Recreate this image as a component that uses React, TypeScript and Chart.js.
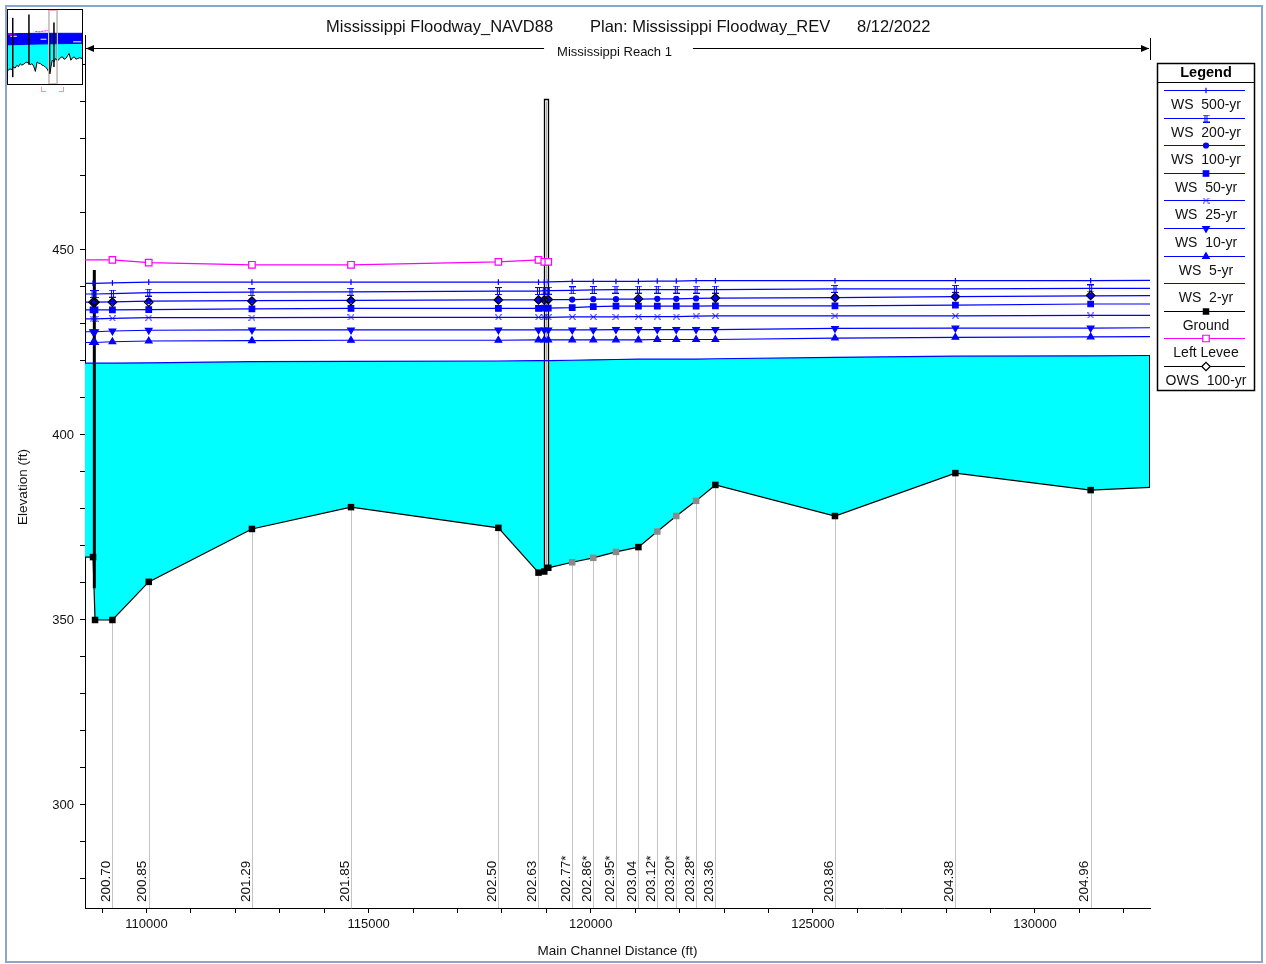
import React, { useEffect, useRef } from 'react';
import { Chart, registerables } from 'chart.js';
import { drawPoint } from 'chart.js/helpers';

Chart.register(...registerables);

const FONT = "'Liberation Sans', Arial, Helvetica, sans-serif";

// ---------- main profile data ----------
// cross-section positions along main channel (ft); first and last lie just outside the view
const stations = [108400, 108796, 108841, 109232, 110050, 112373, 114603, 117921, 118824, 118954, 119044, 119583, 120057, 120568, 121073, 121498, 121926, 122372, 122806, 125498, 128209, 131254, 133000];
const groundElev = [367.0, 367.0, 350.0, 350.0, 360.3, 374.6, 380.5, 374.9, 362.8, 363.1, 364.1, 365.6, 366.8, 368.4, 369.7, 373.9, 378.1, 382.2, 386.5, 378.1, 389.7, 385.1, 386.1];
const interpolatedStations = [119583, 120057, 120568, 121498, 121926, 122372];

const ws500 = [441.0, 441.0, 441.0, 441.1, 441.3, 441.3, 441.3, 441.3, 441.3, 441.3, 441.4, 441.5, 441.5, 441.5, 441.5, 441.6, 441.6, 441.7, 441.7, 441.7, 441.7, 441.7, 441.8];
const ws200 = [438.1, 438.1, 438.1, 438.2, 438.5, 438.6, 438.7, 438.9, 438.9, 439.0, 439.0, 439.1, 439.2, 439.3, 439.3, 439.3, 439.3, 439.3, 439.3, 439.5, 439.5, 439.6, 439.6];
const ws100 = [435.9, 435.9, 435.9, 436.0, 436.2, 436.3, 436.4, 436.5, 436.5, 436.6, 436.6, 436.6, 436.7, 436.7, 436.7, 436.8, 436.8, 436.9, 437.0, 437.1, 437.4, 437.6, 437.7];
const ws50 = [433.8, 433.8, 433.8, 433.8, 433.9, 434.1, 434.2, 434.2, 434.2, 434.3, 434.3, 434.4, 434.7, 434.8, 434.8, 434.8, 434.8, 434.8, 434.9, 434.9, 435.1, 435.4, 435.4];
const ws25 = [431.4, 431.4, 431.4, 431.5, 431.7, 431.7, 431.8, 431.8, 431.8, 431.8, 431.8, 431.9, 431.9, 431.9, 432.0, 432.0, 432.0, 432.1, 432.2, 432.2, 432.2, 432.3, 432.3];
const ws10 = [427.9, 427.9, 427.9, 428.1, 428.3, 428.4, 428.4, 428.4, 428.4, 428.4, 428.4, 428.4, 428.4, 428.5, 428.5, 428.5, 428.5, 428.5, 428.5, 428.8, 428.9, 428.9, 429.0];
const ws5 = [425.0, 425.0, 425.0, 425.2, 425.4, 425.5, 425.6, 425.6, 425.7, 425.7, 425.7, 425.7, 425.7, 425.7, 425.7, 425.8, 425.8, 425.8, 425.8, 426.2, 426.4, 426.5, 426.6];
const ws2 = [419.4, 419.4, 419.4, 419.4, 419.5, 419.8, 419.9, 420.0, 420.1, 420.1, 420.1, 420.2, 420.3, 420.4, 420.5, 420.5, 420.5, 420.5, 420.6, 421.0, 421.3, 421.4, 421.5];

const leveeStations = [108400, 109232, 110050, 112373, 114603, 117921, 118824, 118954, 119044];
const leveeElev = [447.3, 447.3, 446.6, 446.0, 446.0, 446.8, 447.3, 446.8, 446.8];

const owsStations = [108796, 108841, 109232, 110050, 112373, 114603, 117921, 118824, 118954, 119044, 121073, 122806, 125498, 128209, 131254];
const owsElev = [435.9, 435.9, 435.9, 435.9, 436.2, 436.3, 436.5, 436.5, 436.5, 436.6, 436.8, 437.0, 437.1, 437.4, 437.7];

const labelStations = [109232, 110050, 112373, 114603, 117921, 118824, 119583, 120057, 120568, 121073, 121498, 121926, 122372, 122806, 125498, 128209, 131254];
const sectionLabels = ['200.70', '200.85', '201.29', '201.85', '202.50', '202.63', '202.77*', '202.86*', '202.95*', '203.04', '203.12*', '203.20*', '203.28*', '203.36', '203.86', '204.38', '204.96'];

// structures
const weirStation = 108825;
const weirBottom = 358.6;
const weirTop = 444.6;
const bridgeStations = [118954, 119044];
const bridgeTop = 490.8;

// axes
const X_MIN = 108615;
const X_MAX = 132590;
const Y_MIN = 272.16;
const Y_MAX = 508.1;
const xMajorTicks = [110000, 115000, 120000, 125000, 130000];
const xMinorStep = 1000;
const yMajorTicks = [300, 350, 400, 450];
const yMinorStep = 10;

const titleParts = ['Mississippi Floodway_NAVD88', 'Plan: Mississippi Floodway_REV', '8/12/2022'];
const reachName = 'Mississippi Reach 1';
const xTitle = 'Main Channel Distance (ft)';
const yTitle = 'Elevation (ft)';

// ---------- overview (inset) data, arbitrary 0-100 units ----------
const ovU = [0, 2.7, 5, 7.3, 9.6, 11.9, 14.2, 16.4, 18.7, 21, 24.5, 27.9, 30.1, 32.4, 34.7, 37, 39.3, 41.6, 43.8, 46.1, 48.4, 50.7, 53, 54.8, 56.6, 58.2, 59.8, 62.1, 64.4, 66.7, 68.9, 71.2, 73.5, 75.8, 78.1, 80.4, 82.6, 84.9, 87.2, 89.5, 91.8, 94.1, 97, 100];
const ovGround = [18.3, 20.6, 19.5, 22.9, 21.5, 25.2, 23.5, 27.5, 25.5, 26.6, 29.5, 28.4, 26.0, 27.5, 24.0, 17.0, 29.8, 28.0, 27.5, 25.5, 24.8, 22.5, 20.6, 16.5, 13.8, 24.0, 32.1, 30.0, 34.4, 31.5, 33.0, 36.0, 36.7, 33.5, 34.4, 38.0, 41.3, 32.1, 35.5, 36.7, 33.5, 34.4, 35.5, 34.4];
const ovBandU = [0, 40, 100];
const ovBandTop = [68.0, 68.5, 68.5];
const ovBandBottom = [53.0, 54.0, 55.0];
const ovStreaks = [[3, 12, 64.5], [44, 52, 60.5], [88, 99, 57.0]];
const ovSpikeU = [6.4, 28.3, 56.2, 62.1];
const ovSpikeBottom = [9.2, 26.0, 14.0, 23.0];
const ovSpikeTop = [89.4, 94.0, 69.0, 83.0];
const ovLeveeU = [0, 9.6];
const ovLeveeV = [67.5, 67.5];
const ovLevee2U = [37, 42, 48, 53, 57];
const ovLevee2V = [71.0, 70.5, 71.5, 72.0, 71.5];
const ovView = [54.3, 65.8];

// ---------- helpers ----------
const BLUE = '#0000ff';
const pts = (xs: number[], ys: number[]) => xs.map((x, i) => ({ x, y: ys[i] }));

function interp(xs: number[], ys: number[], v: number) {
  for (let i = 0; i < xs.length - 1; i++) {
    if (v >= xs[i] && v <= xs[i + 1]) {
      const t = (v - xs[i]) / (xs[i + 1] - xs[i]);
      return ys[i] + t * (ys[i + 1] - ys[i]);
    }
  }
  return ys[ys.length - 1];
}

function makeGlyph(kind: 'ibeam' | 'bow') {
  const c = document.createElement('canvas');
  const g = c.getContext('2d')!;
  if (kind === 'ibeam') {
    c.width = 7; c.height = 8;
    g.strokeStyle = BLUE; g.lineWidth = 1;
    g.beginPath();
    g.moveTo(0, 0.5); g.lineTo(7, 0.5);
    g.moveTo(0, 7.5); g.lineTo(7, 7.5);
    g.moveTo(2.5, 0); g.lineTo(2.5, 8);
    g.moveTo(4.5, 0); g.lineTo(4.5, 8);
    g.stroke();
  } else {
    c.width = 7; c.height = 6;
    g.strokeStyle = BLUE; g.lineWidth = 1;
    g.beginPath();
    g.moveTo(0.5, 0); g.lineTo(3, 3); g.lineTo(0.5, 6);
    g.moveTo(6.5, 0); g.lineTo(4, 3); g.lineTo(6.5, 6);
    g.stroke();
  }
  return c;
}

type LegendItem = { label: string; line: string; style: any; radius: number; rotation: number; bg: string; border: string; bw: number };

function buildMain(ibeam: HTMLCanvasElement, bow: HTMLCanvasElement) {
  const wsDefs = [
    { label: 'WS  500-yr', data: ws500, style: 'line', radius: 2.8, rotation: 90 },
    { label: 'WS  200-yr', data: ws200, style: ibeam, radius: 3, rotation: 0 },
    { label: 'WS  100-yr', data: ws100, style: 'circle', radius: 2.5, rotation: 0 },
    { label: 'WS  50-yr', data: ws50, style: 'rect', radius: 3.9, rotation: 0 },
    { label: 'WS  25-yr', data: ws25, style: bow, radius: 3, rotation: 0 },
    { label: 'WS  10-yr', data: ws10, style: 'triangle', radius: 3.8, rotation: 180 },
    { label: 'WS  5-yr', data: ws5, style: 'triangle', radius: 3.8, rotation: 0 },
  ];

  const datasets: any[] = [];
  datasets.push({
    label: 'OWS  100-yr', data: pts(owsStations, owsElev), showLine: false,
    pointStyle: 'rectRot', pointRadius: 4.2, pointBackgroundColor: 'rgba(255,255,255,0)', pointBorderColor: '#000', pointBorderWidth: 1.3,
    borderColor: '#000', order: 0,
  });
  datasets.push({
    label: 'Left Levee', data: pts(leveeStations, leveeElev), borderColor: '#ff00ff', borderWidth: 1.2,
    pointStyle: 'rect', pointRadius: 4.6, pointBackgroundColor: '#ffffff', pointBorderColor: '#ff00ff', pointBorderWidth: 1.2, order: 1,
  });
  const groundIndex = 2;
  datasets.push({
    label: 'Ground', data: pts(stations, groundElev), borderColor: '#000', borderWidth: 1.2,
    pointStyle: 'rect', pointRadius: 4.6,
    pointBackgroundColor: stations.map(s => (interpolatedStations.includes(s) ? '#8a8a8a' : '#000')),
    pointBorderColor: stations.map(s => (interpolatedStations.includes(s) ? '#8a8a8a' : '#000')),
    pointBorderWidth: 0, order: 2,
  });
  wsDefs.forEach((d, k) => {
    datasets.push({
      label: d.label, data: pts(stations, d.data), borderColor: BLUE, borderWidth: 1.2,
      pointStyle: d.style, pointRadius: d.radius, pointRotation: d.rotation,
      pointBackgroundColor: BLUE, pointBorderColor: BLUE, pointBorderWidth: 1.2, order: 3 + k,
    });
  });
  datasets.push({
    label: 'WS  2-yr', data: pts(stations, ws2), borderColor: BLUE, borderWidth: 1.2, pointRadius: 0,
    fill: groundIndex, backgroundColor: '#00ffff', order: 20,
  });

  const legendItems: LegendItem[] = [
    ...wsDefs.map(d => ({ label: d.label, line: BLUE, style: d.style, radius: d.radius, rotation: d.rotation, bg: BLUE, border: BLUE, bw: 1.2 })),
    { label: 'WS  2-yr', line: BLUE, style: false, radius: 0, rotation: 0, bg: BLUE, border: BLUE, bw: 1 },
    { label: 'Ground', line: '#000', style: 'rect', radius: 4.6, rotation: 0, bg: '#000', border: '#000', bw: 0 },
    { label: 'Left Levee', line: '#ff00ff', style: 'rect', radius: 4.6, rotation: 0, bg: '#ffffff', border: '#ff00ff', bw: 1.2 },
    { label: 'OWS  100-yr', line: '#000', style: 'rectRot', radius: 4.2, rotation: 0, bg: '#ffffff', border: '#000', bw: 1.3 },
  ];

  const decor = {
    id: 'decor',
    beforeDatasetsDraw(chart: any) {
      const { ctx, chartArea: a, scales: { x, y } } = chart;
      ctx.save();
      ctx.strokeStyle = '#c4c4c4';
      ctx.lineWidth = 1;
      labelStations.forEach(st => {
        const i = stations.indexOf(st);
        const px = Math.round(x.getPixelForValue(st)) + 0.5;
        const py = y.getPixelForValue(groundElev[i]) + 3;
        ctx.beginPath(); ctx.moveTo(px, py); ctx.lineTo(px, a.bottom); ctx.stroke();
      });
      const gR = interp(stations, groundElev, X_MAX);
      const wR = interp(stations, ws2, X_MAX);
      ctx.strokeStyle = '#000';
      ctx.beginPath();
      ctx.moveTo(a.right - 0.5, y.getPixelForValue(wR));
      ctx.lineTo(a.right - 0.5, y.getPixelForValue(gR));
      ctx.stroke();
      const wx = x.getPixelForValue(weirStation);
      ctx.lineWidth = 3;
      ctx.beginPath();
      ctx.moveTo(wx, y.getPixelForValue(weirBottom));
      ctx.lineTo(wx, y.getPixelForValue(weirTop));
      ctx.stroke();
      const i0 = stations.indexOf(bridgeStations[0]);
      const i1 = stations.indexOf(bridgeStations[1]);
      const bx0 = Math.round(x.getPixelForValue(bridgeStations[0])) + 0.5;
      const bx1 = Math.round(x.getPixelForValue(bridgeStations[1])) + 0.5;
      const by0 = y.getPixelForValue(groundElev[i0]);
      const by1 = y.getPixelForValue(groundElev[i1]);
      const bt = Math.round(y.getPixelForValue(bridgeTop)) + 0.5;
      ctx.lineWidth = 1.3;
      ctx.fillStyle = '#ffffff';
      ctx.beginPath();
      ctx.moveTo(bx0, by0); ctx.lineTo(bx0, bt); ctx.lineTo(bx1, bt); ctx.lineTo(bx1, by1); ctx.closePath();
      ctx.fill();
      ctx.beginPath();
      ctx.moveTo(bx0, by0); ctx.lineTo(bx0, bt); ctx.lineTo(bx1, bt); ctx.lineTo(bx1, by1);
      ctx.stroke();
      ctx.strokeStyle = '#b0b0b0';
      ctx.lineWidth = 1;
      ctx.beginPath();
      ctx.moveTo((bx0 + bx1) / 2, by0); ctx.lineTo((bx0 + bx1) / 2, bt + 2);
      ctx.stroke();
      ctx.restore();
    },
    afterDraw(chart: any) {
      const { ctx, chartArea: a, scales: { x } } = chart;
      ctx.save();
      ctx.fillStyle = '#111';
      ctx.font = `13.5px ${FONT}`;
      ctx.textAlign = 'left';
      ctx.textBaseline = 'middle';
      labelStations.forEach((st, k) => {
        const px = x.getPixelForValue(st);
        ctx.save();
        ctx.translate(px - 6, a.bottom - 6);
        ctx.rotate(-Math.PI / 2);
        ctx.fillText(sectionLabels[k], 0, 0);
        ctx.restore();
      });
      ctx.font = `16.5px ${FONT}`;
      ctx.textBaseline = 'middle';
      const tx = [326, 590, 857];
      titleParts.forEach((t, i) => ctx.fillText(t, tx[i], 27));
      const ry = 48.5;
      const cx = (a.left + a.right) / 2;
      ctx.font = `13px ${FONT}`;
      ctx.textAlign = 'center';
      const tw = ctx.measureText(reachName).width;
      ctx.fillText(reachName, cx - 3, 52);
      ctx.strokeStyle = '#000';
      ctx.lineWidth = 1;
      ctx.beginPath();
      ctx.moveTo(a.left + 1, ry); ctx.lineTo(cx - tw / 2 - 16, ry);
      ctx.moveTo(cx + tw / 2 + 18, ry); ctx.lineTo(a.right - 1, ry);
      ctx.moveTo(a.right + 0.5, 38); ctx.lineTo(a.right + 0.5, 60);
      ctx.stroke();
      ctx.fillStyle = '#000';
      ctx.beginPath();
      ctx.moveTo(a.left + 1, ry); ctx.lineTo(a.left + 9, ry - 3.5); ctx.lineTo(a.left + 9, ry + 3.5); ctx.closePath();
      ctx.moveTo(a.right - 1, ry); ctx.lineTo(a.right - 9, ry - 3.5); ctx.lineTo(a.right - 9, ry + 3.5); ctx.closePath();
      ctx.fill();
      ctx.fillStyle = '#111';
      ctx.font = `13.5px ${FONT}`;
      ctx.textAlign = 'center';
      ctx.fillText(xTitle, cx, 951);
      ctx.save();
      ctx.translate(23, 487);
      ctx.rotate(-Math.PI / 2);
      ctx.fillText(yTitle, 0, 0);
      ctx.restore();
      const L = 1157, R = 1255, T = 63, B = 391;
      const lc = (L + R) / 2;
      ctx.fillStyle = '#fff';
      ctx.fillRect(L, T, R - L, B - T);
      ctx.strokeStyle = '#000';
      ctx.lineWidth = 1.5;
      ctx.strokeRect(L + 0.5, T + 0.5, R - L - 1, B - T - 1);
      ctx.lineWidth = 1;
      ctx.beginPath(); ctx.moveTo(L, 82.5); ctx.lineTo(R, 82.5); ctx.stroke();
      ctx.fillStyle = '#000';
      ctx.font = `bold 14.5px ${FONT}`;
      ctx.fillText('Legend', lc, 72.5);
      ctx.font = `14px ${FONT}`;
      legendItems.forEach((it, i) => {
        const ly = Math.round(90 + i * 27.6) + 0.5;
        ctx.strokeStyle = it.line;
        ctx.lineWidth = 1.2;
        ctx.beginPath(); ctx.moveTo(1164, ly); ctx.lineTo(1245, ly); ctx.stroke();
        if (it.style) {
          ctx.fillStyle = it.bg;
          ctx.strokeStyle = it.border;
          ctx.lineWidth = it.bw;
          drawPoint(ctx, { pointStyle: it.style, radius: it.radius, rotation: it.rotation, borderWidth: it.bw } as any, lc, ly);
        }
        ctx.fillStyle = '#111';
        ctx.fillText(it.label, lc, ly + 14.5);
      });
      ctx.restore();
    },
  };

  const xTicks: number[] = [];
  for (let v = Math.ceil(X_MIN / xMinorStep) * xMinorStep; v <= X_MAX; v += xMinorStep) xTicks.push(v);
  const yTicks: number[] = [];
  for (let v = Math.ceil(Y_MIN / yMinorStep) * yMinorStep; v <= Y_MAX; v += yMinorStep) yTicks.push(v);

  return {
    type: 'line',
    data: { datasets },
    options: {
      responsive: false,
      animation: false,
      events: [],
      layout: { padding: { left: 5, right: 116, top: 35, bottom: 0 } },
      plugins: {
        legend: { display: false },
        tooltip: { enabled: false },
        filler: { drawTime: 'beforeDatasetsDraw', propagate: false },
      },
      scales: {
        x: {
          type: 'linear', min: X_MIN, max: X_MAX,
          afterFit: (s: any) => { s.height = 56; },
          afterBuildTicks: (s: any) => { s.ticks = xTicks.map(v => ({ value: v })); },
          grid: { drawOnChartArea: false, drawTicks: true, tickLength: 5, color: '#000' },
          border: { display: true, color: '#000', width: 1 },
          ticks: {
            autoSkip: false, maxRotation: 0, padding: 4, color: '#111',
            font: { family: FONT, size: 13 },
            callback: (v: any) => (xMajorTicks.includes(v) ? String(v) : ''),
          },
        },
        y: {
          type: 'linear', min: Y_MIN, max: Y_MAX,
          afterFit: (s: any) => { s.width = 80; },
          afterBuildTicks: (s: any) => { s.ticks = yTicks.map(v => ({ value: v })); },
          grid: { drawOnChartArea: false, drawTicks: true, tickLength: 5, color: '#000' },
          border: { display: true, color: '#000', width: 1 },
          ticks: {
            autoSkip: false, padding: 6, color: '#111',
            font: { family: FONT, size: 13 },
            callback: (v: any) => (yMajorTicks.includes(v) ? String(v) : ''),
          },
        },
      },
    },
    plugins: [decor],
  } as any;
}

function buildInset() {
  const datasets: any[] = [];
  datasets.push({ data: pts(ovU, ovGround), borderColor: '#000', borderWidth: 1, pointRadius: 0, order: 1 });
  datasets.push({ data: pts(ovBandU, ovBandBottom), borderColor: BLUE, borderWidth: 1, pointRadius: 0, fill: 0, backgroundColor: '#00ffff', order: 6 });
  datasets.push({ data: pts(ovBandU, ovBandTop), borderColor: BLUE, borderWidth: 1, pointRadius: 0, fill: 1, backgroundColor: BLUE, order: 5 });
  ovStreaks.forEach(s => datasets.push({ data: [{ x: s[0], y: s[2] }, { x: s[1], y: s[2] }], borderColor: '#ffffff', borderWidth: 1, pointRadius: 0, order: 3 }));
  datasets.push({ data: pts(ovLeveeU, ovLeveeV), borderColor: '#ff00ff', borderWidth: 1, pointRadius: 0, order: 2 });
  datasets.push({ data: pts(ovLevee2U, ovLevee2V), borderColor: '#ff00ff', borderWidth: 1, borderDash: [2, 1], pointRadius: 0, order: 2 });
  ovSpikeU.forEach((u, i) => datasets.push({ data: [{ x: u, y: ovSpikeBottom[i] }, { x: u, y: ovSpikeTop[i] }], borderColor: '#000', borderWidth: 1.5, pointRadius: 0, order: 0 }));

  const view = {
    id: 'view',
    afterDatasetsDraw(chart: any) {
      const { ctx, chartArea: a, scales: { x } } = chart;
      const x0 = Math.round(x.getPixelForValue(ovView[0])) + 0.5;
      const x1 = Math.round(x.getPixelForValue(ovView[1])) + 0.5;
      ctx.save();
      ctx.strokeStyle = 'rgba(0,160,160,0.35)';
      ctx.lineWidth = 1;
      ctx.beginPath();
      ctx.moveTo(x0 + 1, a.top); ctx.lineTo(x0 + 1, a.bottom);
      ctx.moveTo(x1 - 1, a.top); ctx.lineTo(x1 - 1, a.bottom);
      ctx.stroke();
      ctx.strokeStyle = '#f5b0b0';
      ctx.strokeRect(x0, a.top + 0.5, x1 - x0, a.bottom - a.top - 1);
      ctx.restore();
    },
  };

  return {
    type: 'line',
    data: { datasets },
    options: {
      responsive: false,
      animation: false,
      events: [],
      layout: { padding: 0 },
      plugins: { legend: { display: false }, tooltip: { enabled: false }, filler: { drawTime: 'beforeDatasetsDraw', propagate: false } },
      scales: {
        x: { type: 'linear', display: false, min: 0, max: 100 },
        y: { type: 'linear', display: false, min: 0, max: 100 },
      },
    },
    plugins: [view],
  } as any;
}

export default function App() {
  const mainRef = useRef<HTMLCanvasElement>(null);
  const insetRef = useRef<HTMLCanvasElement>(null);

  useEffect(() => {
    const ibeam = makeGlyph('ibeam');
    const bow = makeGlyph('bow');
    const main = new Chart(mainRef.current!, buildMain(ibeam, bow));
    const inset = new Chart(insetRef.current!, buildInset());
    return () => {
      main.destroy();
      inset.destroy();
    };
  }, []);

  const bracket = '1px solid #f29a9a';
  return (
    <div style={{ position: 'absolute', left: 0, top: 0, width: 1266, height: 964, background: '#fff', overflow: 'hidden' }}>
      <div style={{ position: 'absolute', left: 5, top: 5, width: 1258, height: 958, border: '2px solid #8aa6ca', boxSizing: 'border-box' }} />
      <canvas ref={mainRef} width={1266} height={964} style={{ position: 'absolute', left: 0, top: 0, width: 1266, height: 964 }} />
      <div style={{ position: 'absolute', left: 7, top: 9, width: 76, height: 76, border: '1px solid #000', boxSizing: 'border-box', background: '#fff' }}>
        <canvas ref={insetRef} width={74} height={74} style={{ display: 'block', width: 74, height: 74 }} />
      </div>
      <div style={{ position: 'absolute', left: 41, top: 87, width: 4, height: 4, borderLeft: bracket, borderBottom: bracket }} />
      <div style={{ position: 'absolute', left: 59, top: 87, width: 4, height: 4, borderRight: bracket, borderBottom: bracket }} />
    </div>
  );
}
